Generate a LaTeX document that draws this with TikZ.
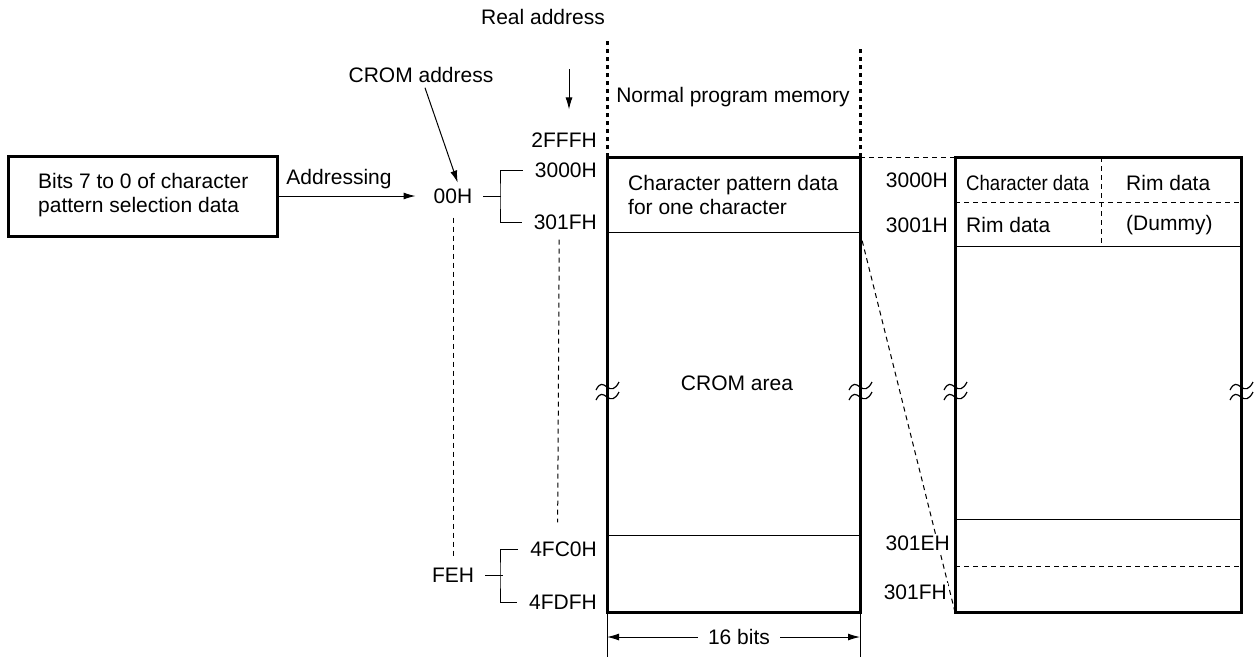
\documentclass[tikz,border=0pt]{standalone}
\usepackage{fontspec}
\setmainfont{Liberation Sans}
\usetikzlibrary{arrows.meta}
\begin{document}
\begin{tikzpicture}[x=1pt,y=-1pt,
  txt/.style={font=\fontsize{21}{24}\selectfont, inner sep=2pt},
  thickbox/.style={draw, line width=3pt, inner sep=0pt, outer sep=0pt},
  thin/.style={line width=1pt},
  dsh/.style={line width=1pt, dash pattern=on 5pt off 4pt},
  dotv/.style={line width=3pt, dash pattern=on 4.5pt off 3.5pt},
  arr/.style={line width=1pt, -{Latex[length=12pt,width=7pt]}},
  brk/.pic={
    \draw[line width=1.2pt] (-11,3) .. controls (-7,-5) and (-4,-3) .. (0,0) .. controls (4,3) and (8,3) .. (12,-5);
    \draw[line width=1.2pt] (-11,13) .. controls (-7,5) and (-4,7) .. (0,10) .. controls (4,13) and (8,13) .. (12,5);
  }
]
\useasboundingbox (0,0) rectangle (1258,657);

% source box
\node[thickbox, minimum width=269pt, minimum height=80pt] (src) at (142.5,196) {};
\node[txt, anchor=west, align=left] (srctxt) at (36,195) {Bits 7 to 0 of character\\pattern selection data};
\node[txt] (addr) at (339,179) {Addressing};

% CROM addresses
\node[txt] (a00) at (453,196) {00H};
\node[txt] (aFE) at (453,575) {FEH};
\node[txt] (crom) at (421,75) {CROM address};
\node[txt] (real) at (543,17) {Real address};

% real addresses
\node[txt, anchor=east] (l2FFF) at (599,140) {2FFFH};
\node[txt, anchor=east] (l3000) at (599,170) {3000H};
\node[txt, anchor=east] (l301F) at (599,222) {301FH};
\node[txt, anchor=east] (l4FC0) at (599,549) {4FC0H};
\node[txt, anchor=east] (l4FDF) at (599,602) {4FDFH};

% memory boxes
\node[thickbox, minimum width=253pt, minimum height=455pt] (mem) at (733.5,384.5) {};
\node[thickbox, minimum width=286pt, minimum height=455pt] (rim) at (1098,384.5) {};

% inner lines of memory
\draw[thin] (607,232) -- (860,232);
\draw[thin] (607,535) -- (860,535);
% inner lines of rim box
\draw[dsh] (955,202) -- (1241,202);
\draw[thin] (955,246) -- (1241,246);
\draw[dsh] (1101,157) -- (1101,246);
\draw[thin] (955,519) -- (1241,519);
\draw[dsh] (955,566) -- (1241,566);

% dotted boundaries of normal program memory
\draw[dotv] (mem.north west) -- ++(0,-117);
\draw[dotv] (mem.north east) -- ++(0,-112);

% connectors between memory views
\draw[dsh] (mem.north east) -- (rim.north west);
\coordinate (m1F) at (860,232);
\draw[dsh] (m1F) -- (rim.south west);

% texts in boxes
\node[txt] (npm) at (733,97) {Normal program memory};
\node[txt, anchor=west, align=left] (cpd) at (626,195) {Character pattern data\\for one character};
\node[txt] (area) at (737,383) {CROM area};
\node[txt, anchor=east] (r3000) at (950,180) {3000H};
\node[txt, anchor=east] (r3001) at (950,225) {3001H};
\node[txt, anchor=east, fill=white] (r301E) at (952,543) {301EH};
\node[txt, anchor=east, fill=white, inner xsep=1pt] (r301F) at (948,592) {301FH};
\node[txt, anchor=west] (cdata) at (964,183) {\scalebox{0.885}[1]{Character data}};
\node[txt, anchor=west] (rim1) at (1124,183) {Rim data};
\node[txt, anchor=west] (rim2) at (964,225) {Rim data};
\node[txt, anchor=west] (dummy) at (1124,225) {(Dummy)};
\node[txt, inner xsep=10pt] (bits) at (739,637) {16 bits};

% connectors
\draw[arr, shorten >=16pt] (src.east) -- (a00.west |- src.east);
\draw[arr, shorten <=3pt, shorten >=4pt] ([xshift=3pt]crom.south) -- ([xshift=6pt]a00.north);
\coordinate (ra) at (569,69);
\draw[arr, shorten >=21pt] (ra) -- (ra |- l2FFF.north);

\draw[thin] ([xshift=9pt]a00.east) -- ++(18,0);
\draw[thin] ([xshift=-10pt]l3000.west) -| (500,196) |- ([xshift=-10pt]l301F.west);
\draw[thin] ([xshift=9pt]aFE.east) -- ++(18,0);
\draw[thin] ([xshift=-10pt]l4FC0.west) -| (500,575) |- ([xshift=-10pt]l4FDF.west);

\draw[dsh, shorten <=12pt, shorten >=10pt] (a00.south) -- (aFE.north);
\draw[dsh, shorten <=8pt, shorten >=17pt] ([xshift=-6pt]l301F.south) -- ([xshift=-6pt]l4FC0.north);

% 16 bits dimension
\draw[thin] (mem.south west) -- ++(0,45);
\draw[thin] (mem.south east) -- ++(0,45);
\draw[arr] (bits.west) -- (mem.west |- bits.west);
\draw[arr] (bits.east) -- (mem.east |- bits.east);

% break marks
\pic at (607,387) {brk};
\pic at (860,387) {brk};
\pic at (955,387) {brk};
\pic at (1241,387) {brk};
\end{tikzpicture}
\end{document}
